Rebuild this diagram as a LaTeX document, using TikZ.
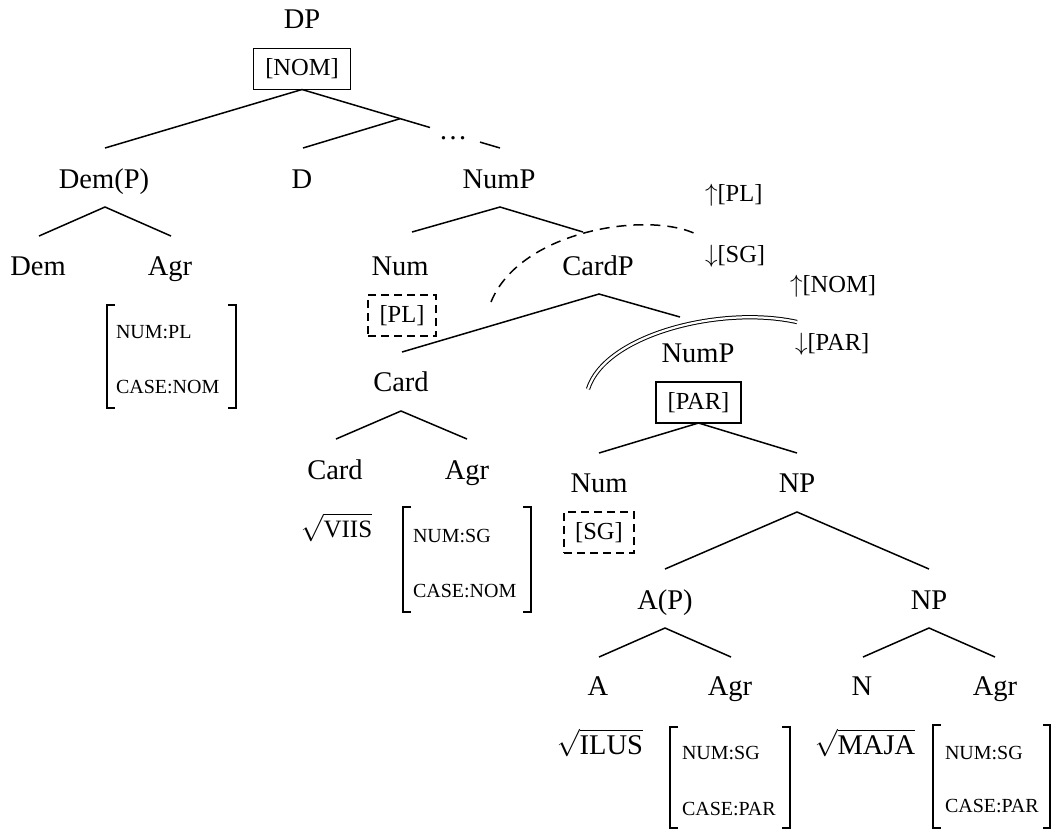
\documentclass[tikz,border=0pt]{standalone}
\usepackage{amsmath}
\usepackage{fontspec}
\setmainfont{Liberation Serif}
\begin{document}
\begin{tikzpicture}[x=0.4pt,y=-0.4pt,
  every node/.style={inner sep=0pt, outer sep=0pt},
  lbl/.style={anchor=base, font=\fontsize{11.4}{13}\selectfont},
  feat/.style={anchor=base west, font=\fontsize{8}{10}\selectfont},
  tag/.style={anchor=base west, font=\fontsize{9.8}{12}\selectfont},
  solidbox/.style={draw, line width=0.6pt, minimum height=16.4pt, font=\fontsize{9.8}{12}\selectfont},
  dashbox/.style={solidbox, dash pattern=on 3.2pt off 2pt},
  branch/.style={line width=0.6pt},
  brk/.style={line width=0.9pt},
  dasharc/.style={line width=0.6pt, dash pattern=on 4pt off 2.8pt},
  dblarc/.style={double, double distance=0.9pt, line width=0.4pt},
]
\useasboundingbox (0,0) rectangle (1052,829);

% ---------- labels ----------
\node[lbl] (DP) at (302,28) {DP};
\node[solidbox, minimum width=38.8pt] (nom) at (302,69) {[NOM]};
\node[lbl] (DemP) at (104,188) {Dem(P)};
\node[lbl] (D) at (302,188) {D};
\node[lbl] (NumP) at (499,188) {NumP};
\node[font=\fontsize{11.4}{13}\selectfont] (dots) at (453,138) {\dots};
\node[lbl] (Dem) at (38,275) {Dem};
\node[lbl] (Agr1) at (170,275) {Agr};
\node[lbl] (Num1) at (400,275) {Num};
\node[lbl] (CardP) at (598,275) {CardP};
\node[dashbox, minimum width=27.2pt] (pl) at (402,315.5) {[PL]};
\node[lbl] (Card) at (401,391) {Card};
\node[lbl] (NumP2) at (698,362) {NumP};
\node[solidbox, minimum width=34pt] (par) at (698.5,402.5) {[PAR]};
\node[lbl] (Card2) at (335,479) {Card};
\node[lbl] (Agr2) at (467,479) {Agr};
\node[lbl] (Num2) at (599,492) {Num};
\node[lbl] (NP) at (797,492) {NP};
\node[dashbox, minimum width=28pt] (sg) at (599,532.5) {[SG]};
\node[lbl] (AP) at (665,609) {A(P)};
\node[lbl] (NP2) at (929,609) {NP};
\node[lbl] (A) at (598,695) {A};
\node[lbl] (Agr3) at (730,695) {Agr};
\node[lbl] (N) at (862,695) {N};
\node[lbl] (Agr4) at (995,695) {Agr};

% roots
\node[lbl] (viis) at (336.5,537) {$\sqrt{\text{\fontsize{10}{12}\selectfont VIIS}}$};
\node[lbl] (ilus) at (600,754) {$\sqrt{\text{ILUS}}$};
\node[lbl] (maja) at (865,754) {$\sqrt{\text{MAJA}}$};

% feature labels
\node[tag] (upPL) at (705,201) {$\uparrow$[PL]};
\node[tag] (dnSG) at (705,262) {$\downarrow$[SG]};
\node[tag] (upNOM) at (790,292) {$\uparrow$[NOM]};
\node[tag] (dnPAR) at (795,350) {$\downarrow$[PAR]};

% ---------- feature matrices ----------
\node[feat] (f1a) at (116,338) {NUM:PL};
\node[feat] (f1b) at (116,393) {CASE:NOM};
\draw[brk] (115,305) -- (107,305) -- (107,408) -- (115,408);
\draw[brk] (228,305) -- (236,305) -- (236,408) -- (228,408);

\node[feat] (f2a) at (413,542) {NUM:SG};
\node[feat] (f2b) at (413,597) {CASE:NOM};
\draw[brk] (411,507) -- (403,507) -- (403,612) -- (411,612);
\draw[brk] (523,507) -- (531,507) -- (531,612) -- (523,612);

\node[feat] (f3a) at (682,759) {NUM:SG};
\node[feat] (f3b) at (682,815) {CASE:PAR};
\draw[brk] (678,727) -- (670,727) -- (670,828) -- (678,828);
\draw[brk] (782,727) -- (790,727) -- (790,828) -- (782,828);

\node[feat] (f4a) at (945,759) {NUM:SG};
\node[feat] (f4b) at (945,812) {CASE:PAR};
\draw[brk] (941,725) -- (933,725) -- (933,828) -- (941,828);
\draw[brk] (1043,725) -- (1050,725) -- (1050,828) -- (1043,828);

% ---------- tree coordinates ----------
\coordinate (c-demp) at (105,148);
\coordinate (c-dbar) at (400,118.7);
\coordinate (c-d) at (303,148);
\coordinate (c-dots1) at (430,127.5);
\coordinate (c-dots2) at (480,142.1);
\coordinate (c-nump) at (500,148);
\coordinate (a-demp) at (105,207);
\coordinate (e-dem) at (39,236);
\coordinate (e-agr1) at (171,236);
\coordinate (a-nump) at (500,207);
\coordinate (e-num1) at (412,232);
\coordinate (e-cardp) at (583,232);
\coordinate (a-cardp) at (599,294);
\coordinate (e-card) at (402,352);
\coordinate (e-nump2) at (680,317);
\coordinate (a-card) at (401,411);
\coordinate (e-card2) at (336,439);
\coordinate (e-agr2) at (467,439);
\coordinate (e-num2) at (599,453);
\coordinate (e-np) at (797,453);
\coordinate (a-np) at (797,512);
\coordinate (e-ap) at (665,569);
\coordinate (e-np2) at (929,569);
\coordinate (a-ap) at (665,628);
\coordinate (e-a) at (599,657);
\coordinate (e-agr3) at (731,657);
\coordinate (a-np2) at (929,628);
\coordinate (e-n) at (863,657);
\coordinate (e-agr4) at (995,657);

% ---------- branches ----------
\draw[branch] (nom.south) -- (c-demp);
\draw[branch] (nom.south) -- (c-dots1);
\draw[branch] (c-dbar) -- (c-d);
\draw[branch] (c-dots2) -- (c-nump);
\draw[branch] (e-dem) -- (a-demp) -- (e-agr1);
\draw[branch] (e-num1) -- (a-nump) -- (e-cardp);
\draw[branch] (e-card) -- (a-cardp) -- (e-nump2);
\draw[branch] (e-card2) -- (a-card) -- (e-agr2);
\draw[branch] (e-num2) -- (par.south) -- (e-np);
\draw[branch] (e-ap) -- (a-np) -- (e-np2);
\draw[branch] (e-a) -- (a-ap) -- (e-agr3);
\draw[branch] (e-n) -- (a-np2) -- (e-agr4);

% ---------- arcs ----------
\coordinate (arc1s) at (491,302);
\coordinate (arc1e) at (698,235);
\draw[dasharc] (arc1s) .. controls (520,230) and (650,210) .. (arc1e);
\coordinate (arc2s) at (588,389);
\coordinate (arc2e) at (797,322);
\draw[dblarc] (arc2s) .. controls (605,335) and (720,305) .. (arc2e);
\end{tikzpicture}
\end{document}
